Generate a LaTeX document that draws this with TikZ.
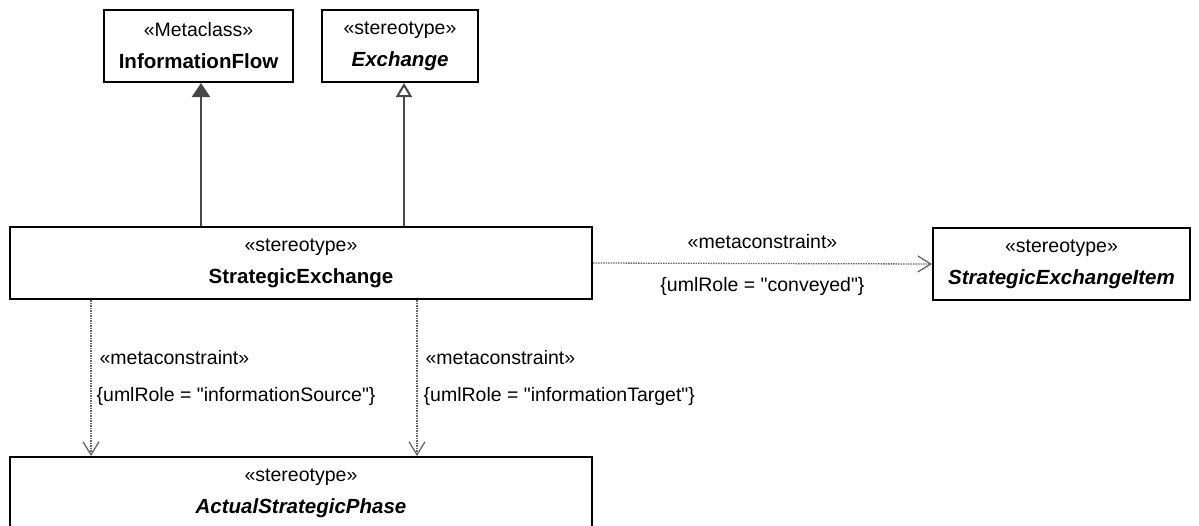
\documentclass[tikz,border=0pt]{standalone}
\usepackage{fontspec}
\setmainfont{Liberation Sans}[Ligatures=TeXOff]
\usetikzlibrary{arrows.meta,positioning,calc}
\newcommand{\nmfont}{\fontsize{20.5}{32}\selectfont\bfseries}

\begin{document}
\begin{tikzpicture}[x=1pt,y=-1pt,
  every node/.style={font=\fontsize{19.5}{32}\selectfont},
  cls/.style={rectangle,draw,line width=2pt,align=center,inner sep=0pt,minimum height=72pt},
  gen/.style={draw=black!72,line width=2pt},
  dep/.style={draw=black!60,line width=1.3pt,dash pattern=on 1.6pt off 0.9pt,-{Straight Barb[length=13pt,width=16pt,line width=1.3pt]}},
  lbl/.style={inner sep=0pt}
]
\useasboundingbox (0,0) rectangle (1199,525);
\node[cls, minimum width=189pt] (flow) at (198.5,46) {«Metaclass»\\{\nmfont InformationFlow}};
\node[cls, minimum width=156pt] (xch) at (400,46) {«stereotype»\\{\nmfont\itshape Exchange}};
\node[cls, minimum width=582pt] (se) at (301,263) {«stereotype»\\{\nmfont StrategicExchange}};
\node[cls, minimum width=257pt] (item) at (1061.5,264) {«stereotype»\\{\nmfont\itshape StrategicExchangeItem}};
\node[cls, minimum width=582pt] (phase) at (301,493) {«stereotype»\\{\nmfont\itshape ActualStrategicPhase}};
\coordinate (srcA) at ([xshift=82pt]se.south west);
\coordinate (srcB) at ([xshift=408pt]se.south west);
\draw[gen,-{Triangle[length=14pt,width=18pt,fill=black!72]}] ([xshift=2.5pt]flow.south |- se.north) -- ([xshift=2.5pt]flow.south);
\draw[gen,-{Triangle[open,length=14pt,width=16pt,fill=white]}] ([xshift=4pt]xch.south |- se.north) -- ([xshift=4pt]xch.south);
\draw[dep] (se.east) -- (item.west)
  node[lbl,midway,above=14pt] {«metaconstraint»}
  node[lbl,midway,below=13pt] {\{umlRole = "conveyed"\}};
\draw[dep] (srcA) -- (srcA |- phase.north)
  node[lbl,pos=0.37,anchor=west,xshift=8pt] {«metaconstraint»}
  node[lbl,pos=0.62,anchor=west,xshift=5pt] {\{umlRole = "informationSource"\}};
\draw[dep] (srcB) -- (srcB |- phase.north)
  node[lbl,pos=0.37,anchor=west,xshift=8pt] {«metaconstraint»}
  node[lbl,pos=0.62,anchor=west,xshift=6pt] {\{umlRole = "informationTarget"\}};
\end{tikzpicture}
\end{document}
